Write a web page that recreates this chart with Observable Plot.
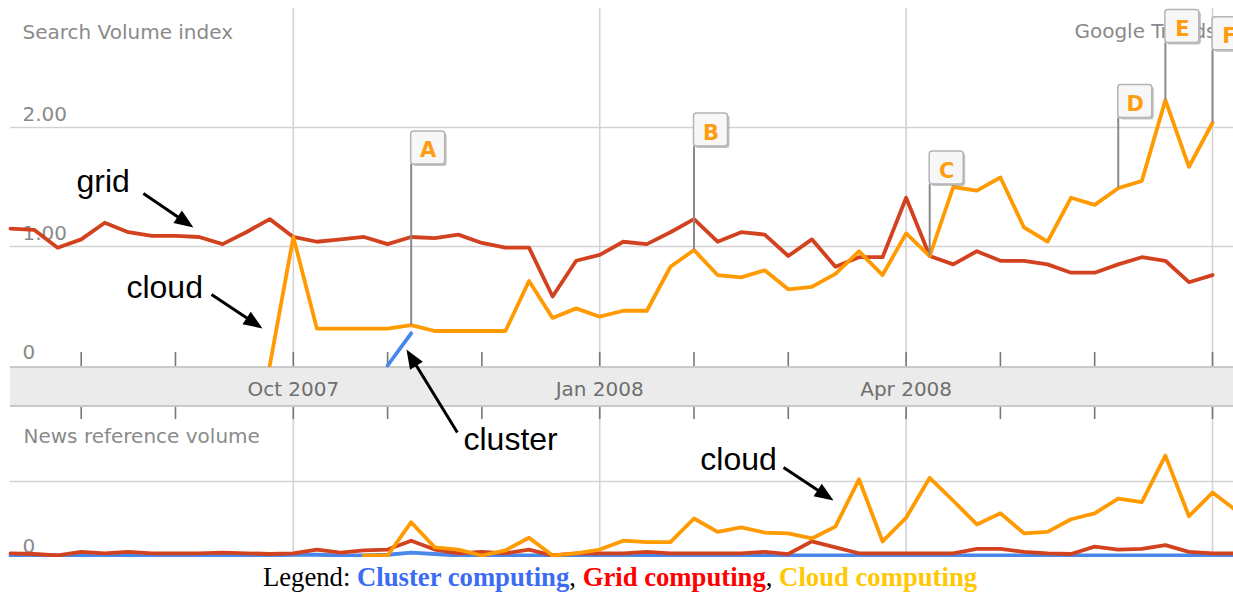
<!DOCTYPE html>
<html><head><meta charset="utf-8">
<script src="https://cdn.jsdelivr.net/npm/d3@7"></script>
<script src="https://cdn.jsdelivr.net/npm/@observablehq/plot@0.6"></script>
<style>
html,body{margin:0;padding:0;background:#fff;overflow:hidden;}
#wrap{position:relative;width:1233px;height:592px;overflow:hidden;background:#fff;}
#band{position:absolute;left:10px;top:366px;width:1223px;height:37px;background:#ebebeb;border-top:2px solid #c9c9c9;border-bottom:2px solid #c9c9c9;}
.panel{position:absolute;left:0;}
#legend{position:absolute;left:0;top:562px;width:1240px;text-align:center;font-family:"Liberation Serif","Times New Roman",serif;font-size:26.7px;line-height:30px;color:#000;white-space:nowrap;}
#legend b{font-weight:bold;}
</style></head><body>
<div id="wrap">
  <div id="band"></div>
  <div id="news" class="panel" style="top:366px"></div>
  <div id="search" class="panel" style="top:0px"></div>
  <div id="legend"></div>
</div>
<script>
// ---- data (weekly points, week 0 = early July 2007) ----
const seriesNames = ["Cluster computing", "Grid computing", "Cloud computing"];
const lineColors = ["#4a87ea", "#d2421f", "#ff9a00"];
const legendColors = ["#3b6cf4", "#ff0000", "#ffc800"];

// Search Volume index
const searchGrid = [1.15,1.14,0.99,1.06,1.20,1.12,1.09,1.09,1.08,1.02,
  1.12,1.23,1.08,1.04,1.06,1.08,1.02,1.08,1.07,1.10,
  1.03,0.99,0.99,0.58,0.88,0.93,1.04,1.02,1.12,1.23,
  1.04,1.12,1.10,0.92,1.06,0.83,0.91,0.91,1.41,0.92,
  0.85,0.96,0.88,0.88,0.85,0.78,0.78,0.85,0.91,0.88,
  0.70,0.76];
const searchCloud = [null,null,null,null,null,null,null,null,null,null,
  null,0.00,1.08,0.31,0.31,0.31,0.31,0.34,0.29,0.29,
  0.29,0.29,0.71,0.40,0.48,0.41,0.46,0.46,0.83,0.97,
  0.76,0.74,0.80,0.64,0.66,0.77,0.96,0.76,1.11,0.92,
  1.50,1.47,1.58,1.16,1.04,1.41,1.35,1.49,1.55,2.23,
  1.67,2.04];
const searchCluster = [null,null,null,null,null,null,null,null,null,null,
  null,null,null,null,null,null,0.00,0.27];

// News reference volume
const newsCloud = [null,null,null,null,null,null,null,null,null,null,
  null,null,null,null,null,0.00,0.00,0.45,0.11,0.08,
  0.00,0.07,0.24,0.00,0.03,0.08,0.20,0.18,0.18,0.50,
  0.32,0.38,0.31,0.30,0.23,0.39,1.03,0.19,0.51,1.05,
  0.74,0.42,0.57,0.30,0.32,0.49,0.57,0.77,0.72,1.35,
  0.53,0.85,0.61];
const newsGrid = [0.03,0.02,0.00,0.05,0.03,0.05,0.03,0.03,0.03,0.04,
  0.03,0.02,0.03,0.08,0.04,0.07,0.08,0.20,0.08,0.03,
  0.05,0.03,0.08,0.00,0.03,0.03,0.03,0.05,0.03,0.03,
  0.03,0.03,0.05,0.02,0.19,0.11,0.03,0.03,0.03,0.03,
  0.03,0.09,0.09,0.05,0.03,0.02,0.12,0.08,0.09,0.14,
  0.05,0.03,0.03];
const newsCluster = [0,0,0,0,0,0,0,0,0,0,
  0,0,0.01,0.01,0,0,0.01,0.04,0.02,0,
  0,0,0,0,0,0,0,0,0,0,
  0,0,0,0,0,0,0,0,0,0,
  0,0,0,0,0,0,0,0,0,0,
  0,0,0];

// axis ticks / labels
const tickWeeks = [3,7,12,16,20,25,29,33,38,42,46,51];
const quarterWeeks = [12,25,38,51];
const bandWeeks = [12,25,38];
const bandLabels = ["Oct 2007","Jan 2008","Apr 2008"];
const yTickValues = [0,1,2];
const yTickLabels = ["0","1.00","2.00"];

// flags A-F on the cloud line
const flagLetters = ["A","B","C","D","E","F"];
const flagWeeks = [17,29,39,47,49,51];
const flagTops = [1.69,1.84,1.52,2.08,2.71,2.65];

// annotations (week, value)
const topNotes = [
  {text:"grid", x:2.80, y:1.454},
  {text:"cloud", x:4.92, y:0.571},
  {text:"cluster", x:19.22, y:-0.714}
];
const topArrows = [
  {x1:5.64, y1:1.445, x2:7.76, y2:1.160},
  {x1:8.53, y1:0.597, x2:10.69, y2:0.311},
  {x1:18.96, y1:-0.563, x2:16.80, y2:0.134}
];
const newsNotes = [{text:"cloud", x:29.27, y:1.149}];
const newsArrows = [{x1:32.80, y1:1.189, x2:34.92, y2:0.743}];

// ---- helpers ----
const rows = (vals) => vals.map((v, i) => ({i, v})).filter(d => d.v != null);
const xDef = {type:"linear", domain:[0, 51.89], range:[10, 1233]};
const yTopDef = {type:"linear", domain:[0, 3], range:[365, 8]};
const yNewsDef = {type:"linear", domain:[0, 2], range:[189, 41]};
const xs = Plot.scale({x: xDef});
const yts = Plot.scale({y: yTopDef});
const yns = Plot.scale({y: yNewsDef});

const headSymbol = {draw(ctx){ ctx.moveTo(0,0); ctx.lineTo(-7.5,19); ctx.lineTo(7.5,19); ctx.closePath(); }};
function arrowParts(arrows, ys){
  return arrows.map(a => {
    const px1 = xs.apply(a.x1), py1 = ys.apply(a.y1), px2 = xs.apply(a.x2), py2 = ys.apply(a.y2);
    const ang = Math.atan2(py2 - py1, px2 - px1);
    const ex = px2 - 12*Math.cos(ang), ey = py2 - 12*Math.sin(ang);
    return {...a, xe: xs.invert(ex), ye: ys.invert(ey), rot: ang*180/Math.PI + 90};
  });
}
function arrowMarks(arrows, ys){
  const p = arrowParts(arrows, ys);
  return [
    Plot.link(p, {x1:"x1", y1:"y1", x2:"xe", y2:"ye", stroke:"#000", strokeWidth:3}),
    Plot.dot(p, {x:"x2", y:"y2", symbol: headSymbol, rotate:"rot", fill:"#000", r:5})
  ];
}

const gray = "#8a8a8a";
const gridColor = "#d3d3d3";
const annFont = "Liberation Sans, Arial, sans-serif";
const lw = 3.8;

const flags = flagLetters.map((l, k) => ({label:l, i:flagWeeks[k], top:flagTops[k], v:searchCloud[flagWeeks[k]]}));

// ---- top panel: Search Volume index ----
const topPlot = Plot.plot({
  width:1233, height:367,
  marginLeft:10, marginRight:0, marginTop:8, marginBottom:1,
  x:{...xDef, axis:null}, y:{...yTopDef, axis:null},
  style:{background:"transparent", overflow:"visible", fontFamily:"DejaVu Sans", fontSize:"20px"},
  marks:[
    Plot.ruleY([1,2], {stroke:gridColor, strokeWidth:1.6}),
    Plot.ruleX(quarterWeeks, {stroke:gridColor, strokeWidth:1.6}),
    Plot.ruleX(tickWeeks, {stroke:"#777", strokeWidth:1.6, insetTop:344}),
    Plot.text(yTickValues, {y:d => d, text:(d, i) => yTickLabels[i], frameAnchor:"left", dx:12, dy:-7, lineAnchor:"bottom", textAnchor:"start", fill:gray}),
    Plot.text(["Search Volume index"], {text:d => d, frameAnchor:"top-left", dx:12, dy:30, lineAnchor:"bottom", textAnchor:"start", fill:gray}),
    Plot.text(["Google Trends"], {text:d => d, frameAnchor:"top-right", dx:-17, dy:29, lineAnchor:"bottom", textAnchor:"end", fill:gray}),
    Plot.line(rows(searchGrid), {x:"i", y:"v", stroke:lineColors[1], strokeWidth:lw}),
    Plot.line(rows(searchCluster), {x:"i", y:"v", stroke:lineColors[0], strokeWidth:lw}),
    Plot.line(rows(searchCloud), {x:"i", y:"v", stroke:lineColors[2], strokeWidth:lw}),
    Plot.ruleX(flags, {x:"i", y1:"v", y2:"top", stroke:"#8a8a8a", strokeWidth:2}),
    Plot.rect(flags, {x1:"i", x2:"i", y1:"top", y2:"top", insetRight:-34, insetTop:-33, dx:2, dy:2, fill:"#8f8f8f", fillOpacity:0.55, rx:3}),
    Plot.rect(flags, {x1:"i", x2:"i", y1:"top", y2:"top", insetRight:-34, insetTop:-33, fill:"#f7f7f7", stroke:"#b4b4b4", strokeWidth:1.5, rx:3}),
    Plot.text(flags, {x:"i", y:"top", text:"label", dx:17, dy:-7, lineAnchor:"bottom", fill:"#ff9d12", fontWeight:"bold", fontSize:21}),
    Plot.text(topNotes, {x:"x", y:"y", text:"text", lineAnchor:"bottom", textAnchor:"start", fill:"#000", fontFamily:annFont, fontSize:32}),
    ...arrowMarks(topArrows, yts)
  ]
});
document.getElementById("search").appendChild(topPlot);

// ---- bottom panel: News reference volume ----
const newsPlot = Plot.plot({
  width:1233, height:191,
  marginLeft:10, marginRight:0, marginTop:41, marginBottom:2,
  x:{...xDef, axis:null}, y:{...yNewsDef, axis:null},
  style:{background:"transparent", overflow:"hidden", fontFamily:"DejaVu Sans", fontSize:"20px"},
  marks:[
    Plot.ruleY([1], {stroke:gridColor, strokeWidth:1.6}),
    Plot.ruleX(quarterWeeks, {stroke:gridColor, strokeWidth:1.6}),
    Plot.ruleX(tickWeeks, {stroke:"#777", strokeWidth:1.6, insetBottom:136}),
    Plot.text(bandLabels, {x:(d, i) => bandWeeks[i], text:d => d, frameAnchor:"top", dy:-12, lineAnchor:"bottom", fill:"#6f6f6f"}),
    Plot.text(["News reference volume"], {text:d => d, frameAnchor:"top-left", dx:13, dy:35, lineAnchor:"bottom", textAnchor:"start", fill:gray}),
    Plot.text(["0"], {text:d => d, frameAnchor:"bottom-left", dx:12, dy:-3, lineAnchor:"bottom", textAnchor:"start", fill:gray}),
    Plot.line(rows(newsCluster), {x:"i", y:"v", stroke:lineColors[0], strokeWidth:lw}),
    Plot.line(rows(newsGrid), {x:"i", y:"v", stroke:lineColors[1], strokeWidth:lw}),
    Plot.line(rows(newsCloud), {x:"i", y:"v", stroke:lineColors[2], strokeWidth:lw}),
    Plot.text(newsNotes, {x:"x", y:"y", text:"text", lineAnchor:"bottom", textAnchor:"start", fill:"#000", fontFamily:annFont, fontSize:32}),
    ...arrowMarks(newsArrows, yns)
  ]
});
document.getElementById("news").appendChild(newsPlot);

// ---- legend ----
const legend = document.getElementById("legend");
legend.appendChild(document.createTextNode("Legend: "));
seriesNames.forEach((name, k) => {
  const b = document.createElement("b");
  b.textContent = name;
  b.style.color = legendColors[k];
  legend.appendChild(b);
  if (k < seriesNames.length - 1) legend.appendChild(document.createTextNode(", "));
});
</script>
</body></html>
